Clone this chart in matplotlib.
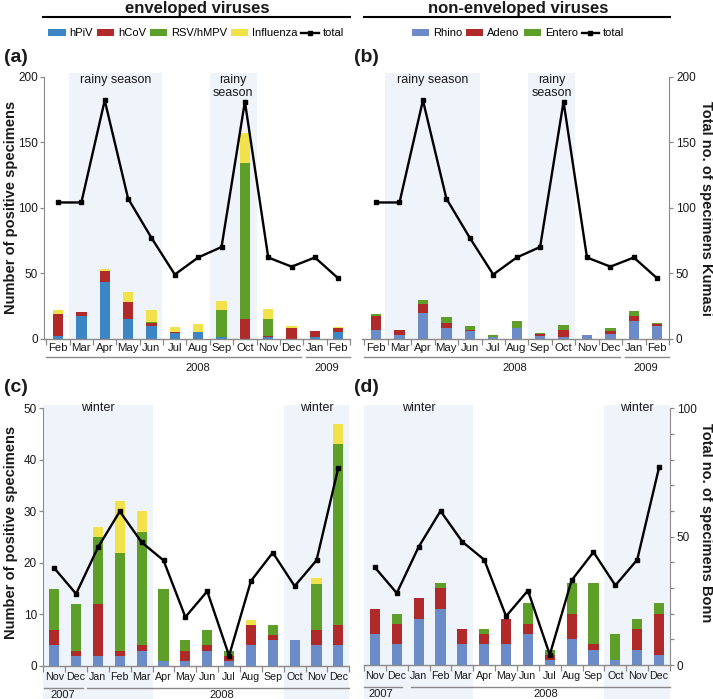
import matplotlib
matplotlib.use('Agg')
import matplotlib.pyplot as plt
from matplotlib.patches import Patch, Rectangle
from matplotlib.lines import Line2D
import matplotlib.transforms as mtransforms
import numpy as np

plt.rcParams['font.family'] = ['Liberation Sans', 'DejaVu Sans']

# ---------------- data ----------------
months_kumasi = ['Feb', 'Mar', 'Apr', 'May', 'Jun', 'Jul', 'Aug', 'Sep', 'Oct', 'Nov', 'Dec', 'Jan', 'Feb']
months_bonn = ['Nov', 'Dec', 'Jan', 'Feb', 'Mar', 'Apr', 'May', 'Jun', 'Jul', 'Aug', 'Sep', 'Oct', 'Nov', 'Dec']

total_kumasi = [104, 104, 182, 107, 77, 49, 62, 70, 181, 62, 55, 62, 46]
total_bonn = [38, 28, 46, 60, 48, 41, 19, 29, 4, 33, 44, 31, 41, 77]

# enveloped, Kumasi
k_hpiv = [2, 17, 43, 15, 10, 4, 5, 1, 0, 1, 0, 1, 5]
k_hcov = [17, 3.5, 9, 13, 2, 1, 0, 0, 15, 1, 8, 5, 3.5]
k_rsv = [0, 0, 0, 0, 1, 0, 0, 21, 119, 13, 0, 0, 0]
k_flu = [3, 0, 1, 7.5, 9, 4, 6, 6.5, 23, 8, 2, 0, 0.5]

# non-enveloped, Kumasi
k_rhino = [7, 3, 19.5, 8, 5.5, 1.5, 8, 2, 1, 2.5, 3.5, 13.5, 9.5]
k_adeno = [10, 3.5, 7, 4, 1.5, 0, 0, 1.5, 5.5, 0, 2, 4, 2]
k_entero = [2, 0, 3, 4.5, 3, 1, 5.5, 1, 4, 0, 2.5, 4, 0.5]

# enveloped, Bonn
b_hpiv = [4, 2, 2, 2, 3, 1, 1, 3, 1, 4, 5, 5, 4, 4]
b_hcov = [3, 1, 10, 1, 1, 0, 2, 1, 1, 4, 1, 0, 3, 4]
b_rsv = [8, 9, 13, 19, 22, 14, 2, 3, 1, 0, 2, 0, 9, 35]
b_flu = [0, 0, 2, 10, 4, 0, 0, 0, 0, 1, 0, 0, 1, 4]

# non-enveloped, Bonn
b_rhino = [6, 4, 9, 11, 4, 4, 4, 6, 1, 5, 3, 1, 3, 2]
b_adeno = [5, 4, 4, 4, 3, 2, 5, 2, 1, 5, 1, 0, 4, 8]
b_entero = [0, 2, 0, 1, 0, 1, 0, 4, 1, 6, 12, 5, 2, 2]

env_labels = ['hPiV', 'hCoV', 'RSV/hMPV', 'Influenza']
nonenv_labels = ['Rhino', 'Adeno', 'Entero']

# ---------------- style ----------------
BLUE_A = '#3d86c6'
BLUE_B = '#6b8cc8'
RED = '#b02a2a'
GREEN = '#5e9f2a'
YELLOW = '#f1e24c'
SHADE = '#eff4fb'
GRAY = '#8a8a8a'
TXT = '#1a1a1a'

W, H = 713, 699
fig = plt.figure(figsize=(W / 100, H / 100), dpi=100)


def fx(px):
    return px / W


def fy(py):
    return 1 - py / H


def add_axes(x0, x1, ytop, ybot):
    return fig.add_axes([x0 / W, 1 - ybot / H, (x1 - x0) / W, (ybot - ytop) / H])


ax_a = add_axes(44, 350, 72.8, 338.7)
ax_b = add_axes(362, 669, 72.8, 338.7)
ax_c = add_axes(43.3, 349.3, 404.7, 666)
ax_d = add_axes(364, 670, 404.7, 665)


def base_style(ax, labels, xlim, fs, pad):
    n = len(labels)
    ax.set_xlim(*xlim)
    ax.set_xticks(range(n))
    ax.set_xticklabels(labels, fontsize=fs, color=TXT)
    ax.set_xticks([i - 0.5 for i in range(n + 1)], minor=True)
    ax.tick_params(axis='x', which='major', length=0, pad=pad)
    ax.tick_params(axis='x', which='minor', length=4.5, color=GRAY, width=0.9, direction='out')
    for s in ['top', 'right']:
        ax.spines[s].set_visible(False)
    ax.spines['bottom'].set_color(GRAY)
    ax.spines['bottom'].set_linewidth(1.0)


def stacked(ax, series, colors, width=0.44):
    x = np.arange(len(series[0]))
    bottom = np.zeros(len(x))
    for vals, c in zip(series, colors):
        v = np.array(vals, dtype=float)
        ax.bar(x, v, width=width, bottom=bottom, color=c, edgecolor='none', zorder=2)
        bottom += v


def total_line(ax, vals):
    ax.plot(np.arange(len(vals)), vals, color='black', lw=1.7, marker='s', ms=3.4,
            zorder=6, clip_on=False)


def shade(ax, x0, x1, extend=0.0):
    tr = mtransforms.blended_transform_factory(ax.transData, ax.transAxes)
    r = Rectangle((x0, -extend), x1 - x0, 1 + extend, transform=tr, facecolor=SHADE,
                  edgecolor='none', zorder=0, clip_on=False)
    ax.add_patch(r)


def year_marks(ax, segs, years, yline, ytext):
    tr = mtransforms.blended_transform_factory(ax.transData, ax.transAxes)
    for (a, b), (label, xc) in zip(segs, years):
        ax.add_line(Line2D([a, b], [yline, yline], transform=tr, color=GRAY, lw=1.0,
                           clip_on=False))
        ax.text(xc, ytext, label, transform=tr, ha='center', va='center', fontsize=8,
                color=TXT, clip_on=False)


def left_y(ax, ticks, top, fs=8.5):
    ax.set_ylim(0, top)
    ax.set_yticks(ticks)
    ax.tick_params(axis='y', length=3, color=GRAY, width=0.9, labelsize=fs, labelcolor=TXT, pad=1.5)
    ax.spines['left'].set_color(GRAY)
    ax.spines['left'].set_bounds(ticks[0], ticks[-1])


# ---------------- (a) ----------------
base_style(ax_a, months_kumasi, (-0.6, 12.5), 8.2, 3)
left_y(ax_a, [0, 50, 100, 150, 200], 203)
shade(ax_a, 0.45, 4.45)
shade(ax_a, 6.5, 8.5)
stacked(ax_a, [k_hpiv, k_hcov, k_rsv, k_flu], [BLUE_A, RED, GREEN, YELLOW])
total_line(ax_a, total_kumasi)
tra = mtransforms.blended_transform_factory(ax_a.transData, ax_a.transAxes)
ax_a.text(2.45, 0.972, 'rainy season', transform=tra, ha='center', va='center', fontsize=9, color=TXT)
ax_a.text(7.5, 0.948, 'rainy\nseason', transform=tra, ha='center', va='center', fontsize=9,
          color=TXT, linespacing=1.05)
year_marks(ax_a, [(-0.5, 10.42), (10.62, 12.5)], [('2008', 6.0), ('2009', 11.5)], -0.069, -0.11)

# ---------------- (b) ----------------
base_style(ax_b, months_kumasi, (-0.6, 12.5), 8.2, 3)
ax_b.set_ylim(0, 203)
ax_b.spines['left'].set_visible(False)
ax_b.set_yticks([])
shade(ax_b, 0.4, 4.45)
shade(ax_b, 6.5, 8.5)
stacked(ax_b, [k_rhino, k_adeno, k_entero], [BLUE_B, RED, GREEN])
ax_b2 = ax_b.twinx()
ax_b2.set_ylim(0, 203)
for s in ['left', 'top', 'bottom']:
    ax_b2.spines[s].set_visible(False)
ax_b2.spines['right'].set_color(GRAY)
ax_b2.spines['right'].set_bounds(0, 200)
ax_b2.set_yticks([0, 50, 100, 150, 200])
ax_b2.tick_params(axis='y', length=3, color=GRAY, width=0.9, labelsize=8.5, labelcolor=TXT, pad=2)
total_line(ax_b2, total_kumasi)
trb = mtransforms.blended_transform_factory(ax_b.transData, ax_b.transAxes)
ax_b.text(2.4, 0.972, 'rainy season', transform=trb, ha='center', va='center', fontsize=9, color=TXT)
ax_b.text(7.5, 0.948, 'rainy\nseason', transform=trb, ha='center', va='center', fontsize=9,
          color=TXT, linespacing=1.05)
year_marks(ax_b, [(-0.5, 10.42), (10.62, 12.5)], [('2008', 5.9), ('2009', 11.5)], -0.069, -0.11)

# ---------------- (c) ----------------
base_style(ax_c, months_bonn, (-0.5, 13.5), 7.7, 4.5)
left_y(ax_c, [0, 10, 20, 30, 40, 50], 50.7)
shade(ax_c, -0.5, 4.5, extend=0.13)
shade(ax_c, 10.5, 13.5, extend=0.13)
stacked(ax_c, [b_hpiv, b_hcov, b_rsv, b_flu], [BLUE_B, RED, GREEN, YELLOW], width=0.46)
ax_c2 = ax_c.twinx()
ax_c2.set_ylim(0, 101.4)
for s in ['left', 'top', 'bottom', 'right']:
    ax_c2.spines[s].set_visible(False)
ax_c2.set_yticks([])
total_line(ax_c2, total_bonn)
trc = mtransforms.blended_transform_factory(ax_c.transData, ax_c.transAxes)
ax_c.text(2.0, 0.987, 'winter', transform=trc, ha='center', va='center', fontsize=9, color=TXT)
ax_c.text(12.0, 0.987, 'winter', transform=trc, ha='center', va='center', fontsize=9, color=TXT)
year_marks(ax_c, [(-0.47, 1.33), (1.49, 13.5)], [('2007', 0.4), ('2008', 7.65)], -0.083, -0.111)

# ---------------- (d) ----------------
base_style(ax_d, months_bonn, (-0.5, 13.5), 7.7, 4.5)
ax_d.set_ylim(0, 50.7)
ax_d.spines['left'].set_visible(False)
ax_d.set_yticks([])
shade(ax_d, -0.5, 4.47, extend=0.13)
shade(ax_d, 10.47, 13.5, extend=0.13)
stacked(ax_d, [b_rhino, b_adeno, b_entero], [BLUE_B, RED, GREEN], width=0.46)
ax_d2 = ax_d.twinx()
ax_d2.set_ylim(0, 101.4)
for s in ['left', 'top', 'bottom']:
    ax_d2.spines[s].set_visible(False)
ax_d2.spines['right'].set_color(GRAY)
ax_d2.spines['right'].set_bounds(0, 100)
ax_d2.set_yticks([0, 50, 100])
ax_d2.set_yticks(np.arange(0, 101, 10), minor=True)
ax_d2.tick_params(axis='y', which='both', length=3, color=GRAY, width=0.9, labelsize=8.5,
                  labelcolor=TXT, pad=2)
total_line(ax_d2, total_bonn)
trd = mtransforms.blended_transform_factory(ax_d.transData, ax_d.transAxes)
ax_d.text(2.0, 0.987, 'winter', transform=trd, ha='center', va='center', fontsize=9, color=TXT)
ax_d.text(12.0, 0.987, 'winter', transform=trd, ha='center', va='center', fontsize=9, color=TXT)
year_marks(ax_d, [(-0.5, 1.22), (1.67, 13.5)], [('2007', 0.27), ('2008', 7.8)], -0.083, -0.111)

# ---------------- headers, legends, labels ----------------
fig.text(fx(197), fy(12.5), 'enveloped viruses', ha='center', va='baseline', fontsize=12,
         weight='bold', color=TXT)
fig.text(fx(518), fy(12.5), 'non-enveloped viruses', ha='center', va='baseline', fontsize=12,
         weight='bold', color=TXT)
fig.add_artist(Line2D([fx(43), fx(350)], [fy(16.7)] * 2, color='black', lw=1.5))
fig.add_artist(Line2D([fx(364), fx(670)], [fy(16.7)] * 2, color='black', lw=1.5))

tot_handle = Line2D([], [], color='black', lw=1.7, marker='s', ms=3)
h_env = [Patch(facecolor=c, edgecolor='none') for c in [BLUE_A, RED, GREEN, YELLOW]] + [tot_handle]
h_non = [Patch(facecolor=c, edgecolor='none') for c in [BLUE_B, RED, GREEN]] + [tot_handle]
leg_kw = dict(loc='center', ncol=5, frameon=False, fontsize=8, handlelength=1.55, handleheight=0.6,
              handletextpad=0.35, columnspacing=0.35, borderaxespad=0, borderpad=0)
fig.legend(h_env, env_labels + ['total'], bbox_to_anchor=(fx(196), fy(33.5)), **leg_kw)
fig.legend(h_non, nonenv_labels + ['total'], bbox_to_anchor=(fx(518), fy(33.5)), **leg_kw)

for lab, x, y in [('(a)', 4, 58), ('(b)', 354, 58), ('(c)', 4, 387), ('(d)', 354, 387)]:
    fig.text(fx(x), fy(y), lab, ha='left', va='center', fontsize=14, weight='bold', color=TXT)

fig.text(fx(11.5), fy(207), 'Number of positive specimens', rotation=90, ha='center', va='center',
         fontsize=10.5, weight='bold', color=TXT)
fig.text(fx(11.5), fy(532), 'Number of positive specimens', rotation=90, ha='center', va='center',
         fontsize=10.5, weight='bold', color=TXT)
fig.text(fx(706), fy(208), 'Total no. of specimens Kumasi', rotation=270, ha='center', va='center',
         fontsize=10.5, weight='bold', color=TXT)
fig.text(fx(706), fy(523), 'Total no. of specimens Bonn', rotation=270, ha='center', va='center',
         fontsize=10.5, weight='bold', color=TXT)

fig.savefig('out.png', dpi=100)
